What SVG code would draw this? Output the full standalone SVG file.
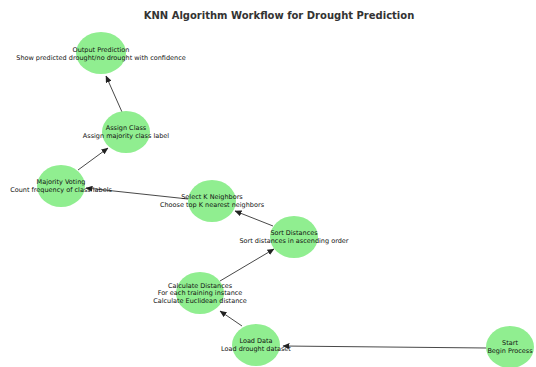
<svg xmlns="http://www.w3.org/2000/svg" width="536" height="367" viewBox="0 0 536 367">
<defs>
<marker id="arr" markerUnits="userSpaceOnUse" markerWidth="7" markerHeight="6" refX="6.5" refY="3" orient="auto">
<path d="M0,0 L7,3 L0,6 Z" fill="#222"/>
</marker>
<style>
.node ellipse{fill:#90ee90;}
.node text{font-family:"DejaVu Sans",sans-serif;font-size:6.5px;fill:#111;text-anchor:middle;dominant-baseline:central;}
.edges line{stroke:#333;stroke-width:0.9;marker-end:url(#arr);}
.title{font-family:"DejaVu Sans",sans-serif;font-size:10px;font-weight:bold;fill:#333;text-anchor:middle;}
</style>
</defs>
<rect width="536" height="367" fill="#fff"/>
<text class="title" x="279" y="19">KNN Algorithm Workflow for Drought Prediction</text>
<g class="edges">
<line x1="487" y1="348" x2="283" y2="346"/>
<line x1="242" y1="326" x2="220" y2="311"/>
<line x1="220" y1="281" x2="274" y2="249"/>
<line x1="273" y1="226" x2="235" y2="211"/>
<line x1="188" y1="199" x2="86" y2="188"/>
<line x1="78" y1="170" x2="108" y2="148"/>
<line x1="122" y1="112" x2="106" y2="76"/>
</g>
<g class="node" id="start"><ellipse cx="510" cy="347" rx="24" ry="21"/><text x="510" y="343">Start</text><text x="510" y="350.5">Begin Process</text></g>
<g class="node" id="load"><ellipse cx="256" cy="345" rx="24" ry="21"/><text x="256" y="341">Load Data</text><text x="256" y="348.5">Load drought dataset</text></g>
<g class="node" id="calc"><ellipse cx="200" cy="293" rx="24" ry="21"/><text x="200" y="285.5">Calculate Distances</text><text x="200" y="293">For each training instance</text><text x="200" y="300.5">Calculate Euclidean distance</text></g>
<g class="node" id="sort"><ellipse cx="294" cy="237" rx="24" ry="21"/><text x="294" y="233">Sort Distances</text><text x="294" y="240.5">Sort distances in ascending order</text></g>
<g class="node" id="select"><ellipse cx="212" cy="201" rx="24" ry="21"/><text x="212" y="197">Select K Neighbors</text><text x="212" y="204.5">Choose top K nearest neighbors</text></g>
<g class="node" id="vote"><ellipse cx="61" cy="186" rx="24" ry="21"/><text x="61" y="182">Majority Voting</text><text x="61" y="189.5">Count frequency of class labels</text></g>
<g class="node" id="assign"><ellipse cx="126" cy="132" rx="24" ry="21"/><text x="126" y="128">Assign Class</text><text x="126" y="135.5">Assign majority class label</text></g>
<g class="node" id="output"><ellipse cx="101" cy="53" rx="25" ry="21"/><text x="101" y="50">Output Prediction</text><text x="101" y="57.5">Show predicted drought/no drought with confidence</text></g>
</svg>
